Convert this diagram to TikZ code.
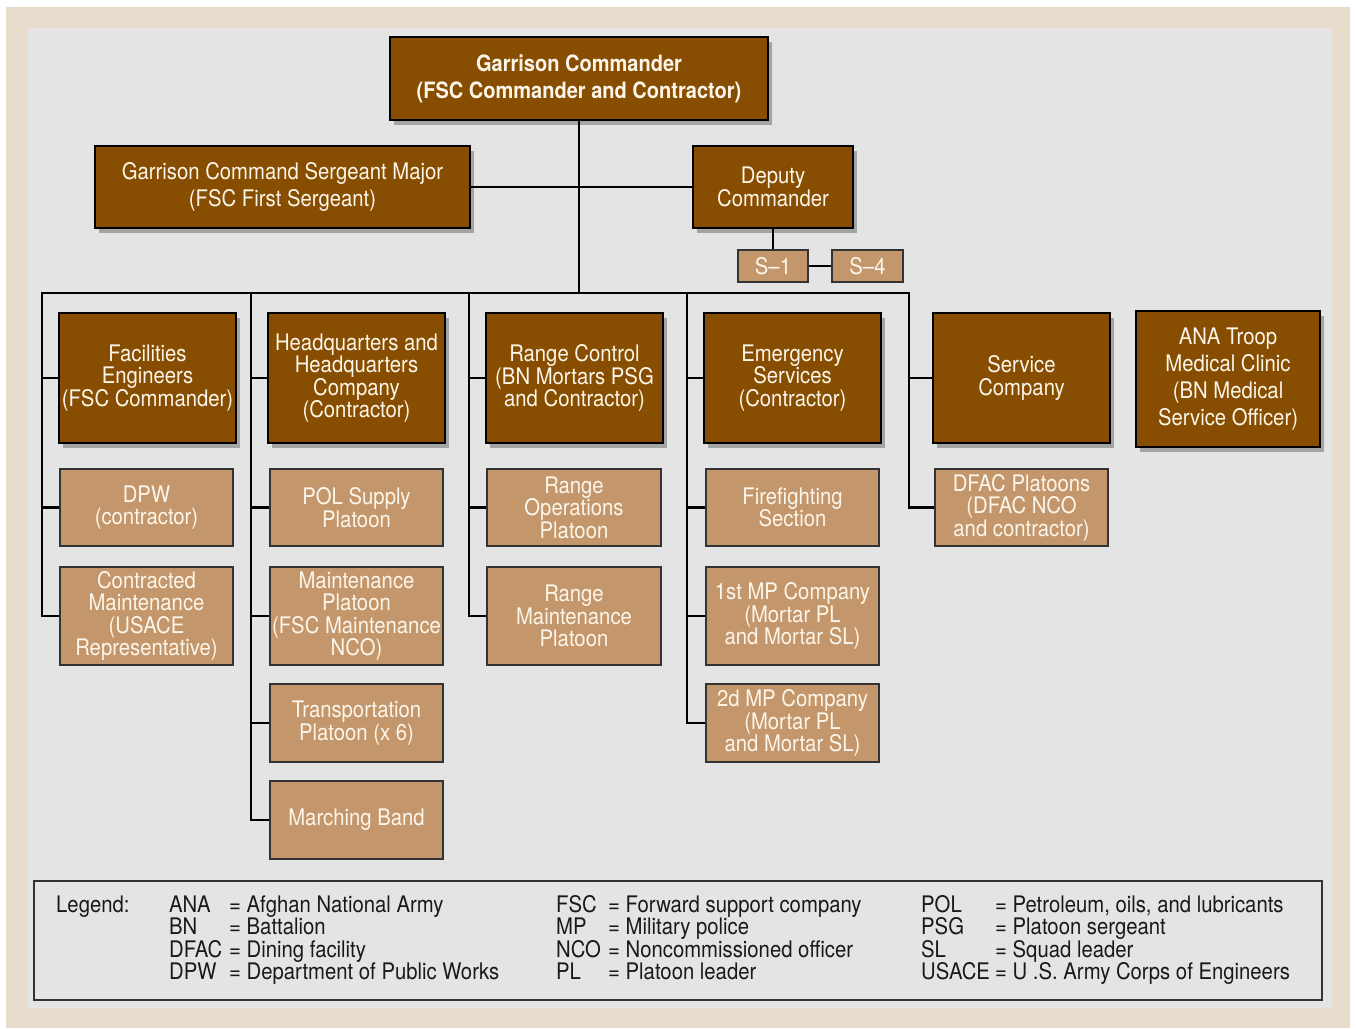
\documentclass[tikz,border=0pt]{standalone}
\usepackage{fontspec}
\setmainfont{TeX Gyre Heros}[FakeStretch=0.89]
\usetikzlibrary{shadows}
\definecolor{darkbrown}{RGB}{135,77,0}
\definecolor{lightbrown}{RGB}{196,150,108}
\definecolor{bggray}{RGB}{228,228,228}
\definecolor{beige}{RGB}{232,220,205}
\definecolor{cream}{RGB}{252,246,234}
\definecolor{legtext}{RGB}{25,25,25}
\pgfdeclarelayer{bg}
\pgfdeclarelayer{lines}
\pgfsetlayers{bg,lines,main}
\tikzset{
  wh/.style 2 args={minimum width=#1pt, minimum height=#2pt},
  darkbox/.style={draw=black, line width=1.3pt, fill=darkbrown, text=cream, inner sep=0pt, align=center,
     font=\fontsize{22.8}{22.5}\selectfont,
     drop shadow={shadow xshift=4pt, shadow yshift=-5pt, fill=black, opacity=0.28}},
  lightbox/.style={draw=black!80, line width=1.3pt, fill=lightbrown, text=cream, inner sep=0pt, align=center,
     font=\fontsize{22.8}{22.5}\selectfont},
  wide/.style={font=\fontsize{22.8}{27}\selectfont},
  conn/.style={line width=2.8pt, draw=black, line cap=rect},
  leg/.style={anchor=base west, inner sep=0pt, text=legtext, font=\fontsize{22.8}{22.5}\selectfont},
}
\begin{document}
\begin{tikzpicture}[x=1pt,y=-1pt]
\useasboundingbox (0,0) rectangle (1356,1028);
\begin{pgfonlayer}{bg}
  \fill[white] (0,0) rectangle (1356,1028);
  \fill[beige] (6,7) rectangle (1350,1028);
  \fill[bggray] (28,28) rectangle (1332,1008);
\end{pgfonlayer}

% top level
\node[darkbox, wh={378}{83}, font=\bfseries\fontsize{22.5}{27}\selectfont] (gc) at (579,78.5)
  {Garrison Commander\\(FSC Commander and Contractor)};
\node[darkbox, wide, wh={375}{82}] (gcsm) at (282.5,187)
  {Garrison Command Sergeant Major\\(FSC First Sergeant)};
\node[darkbox, wh={160}{82}] (dc) at (773,187) {Deputy\\Commander};
\node[lightbox, wh={70}{32}] (s1) at (773,266) {S--1};
\node[lightbox, wh={71}{32}] (s4) at (867.5,266) {S--4};

% second level
\node[darkbox, wh={177}{130}] (fe) at (147.5,378) {Facilities\\Engineers\\(FSC Commander)};
\node[darkbox, wh={177}{130}] (hhc) at (356.5,378) {Headquarters and\\Headquarters\\Company\\(Contractor)};
\node[darkbox, wh={177}{130}] (rc) at (574.5,378) {Range Control\\(BN Mortars PSG\\and Contractor)};
\node[darkbox, wh={177}{130}] (es) at (792.5,378) {Emergency\\Services\\(Contractor)};
\node[darkbox, wh={177}{130}] (sc) at (1021.5,378) {Service\\Company};
\node[darkbox, wide, wh={184}{136}] (ana) at (1228,379) {ANA Troop\\Medical Clinic\\(BN Medical\\Service Officer)};

% third level
\node[lightbox, wh={173}{77}] (dpw) at (146.5,507.5) {DPW\\(contractor)};
\node[lightbox, wh={173}{77}] (pol) at (356.5,507.5) {POL Supply\\Platoon};
\node[lightbox, wh={174}{77}] (rop) at (574,507.5) {Range\\Operations\\Platoon};
\node[lightbox, wh={173}{77}] (ff) at (792.5,507.5) {Firefighting\\Section};
\node[lightbox, wh={173}{77}] (dfac) at (1021.5,507.5) {DFAC Platoons\\(DFAC NCO\\and contractor)};

\node[lightbox, wh={173}{98}] (cm) at (146.5,616) {Contracted\\Maintenance\\(USACE\\Representative)};
\node[lightbox, wh={173}{98}] (mp) at (356.5,616) {Maintenance\\Platoon\\(FSC Maintenance\\NCO)};
\node[lightbox, wh={174}{98}] (rm) at (574,616) {Range\\Maintenance\\Platoon};
\node[lightbox, wh={173}{98}] (mp1) at (792.5,616) {1st MP Company\\(Mortar PL\\and Mortar SL)};

\node[lightbox, wh={173}{78}] (tp) at (356.5,723) {Transportation\\Platoon (x 6)};
\node[lightbox, wh={173}{78}] (mp2) at (792.5,723) {2d MP Company\\(Mortar PL\\and Mortar SL)};
\node[lightbox, wh={173}{78}] (mb) at (356.5,820) {Marching Band};

% connectors
\coordinate (b1) at (42,293);
\coordinate (b2) at (251,293);
\coordinate (b3) at (469,293);
\coordinate (b4) at (687,293);
\coordinate (b5) at (909,293);
\coordinate (bt) at (579,293);
\begin{pgfonlayer}{lines}
  \draw[conn] (gc.south) -- (bt);
  \draw[conn] (gcsm.east) -- (dc.west);
  \draw[conn] (dc.south) -- (s1.north);
  \draw[conn] (s1.east) -- (s4.west);
  \draw[conn] (b1) -- (b5);
  \draw[conn] (b1) |- (cm.west);
  \draw[conn] (fe.west -| b1) -- (fe.west);
  \draw[conn] (dpw.west -| b1) -- (dpw.west);
  \draw[conn] (b2) |- (mb.west);
  \draw[conn] (hhc.west -| b2) -- (hhc.west);
  \draw[conn] (pol.west -| b2) -- (pol.west);
  \draw[conn] (mp.west -| b2) -- (mp.west);
  \draw[conn] (tp.west -| b2) -- (tp.west);
  \draw[conn] (b3) |- (rm.west);
  \draw[conn] (rc.west -| b3) -- (rc.west);
  \draw[conn] (rop.west -| b3) -- (rop.west);
  \draw[conn] (b4) |- (mp2.west);
  \draw[conn] (es.west -| b4) -- (es.west);
  \draw[conn] (ff.west -| b4) -- (ff.west);
  \draw[conn] (mp1.west -| b4) -- (mp1.west);
  \draw[conn] (b5) |- (dfac.west);
  \draw[conn] (sc.west -| b5) -- (sc.west);
\end{pgfonlayer}

% legend
\node[draw=black!80, line width=1.3pt, wh={1288}{119}, inner sep=0pt] (legbox) at (678,940.5) {};
\node[leg] (leglabel) at (56,912) {Legend:};
\foreach \a/\t [count=\i] in {ANA/{Afghan National Army}, BN/Battalion, DFAC/{Dining facility}, DPW/{Department of Public Works}}{
  \node[leg] (la\i) at (169,{912+(\i-1)*22.6}) {\a};
  \node[leg] (ta\i) at (229,{912+(\i-1)*22.6}) {= \t};
}
\foreach \a/\t [count=\i] in {FSC/{Forward support company}, MP/{Military police}, NCO/{Noncommissioned officer}, PL/{Platoon leader}}{
  \node[leg] (lb\i) at (556,{912+(\i-1)*22.6}) {\a};
  \node[leg] (tb\i) at (608,{912+(\i-1)*22.6}) {= \t};
}
\foreach \a/\t [count=\i] in {POL/{Petroleum, oils, and lubricants}, PSG/{Platoon sergeant}, SL/{Squad leader}, USACE/{U .S. Army Corps of Engineers}}{
  \node[leg] (lc\i) at (921,{912+(\i-1)*22.6}) {\a};
  \node[leg] (tc\i) at (995,{912+(\i-1)*22.6}) {= \t};
}
\end{tikzpicture}
\end{document}
